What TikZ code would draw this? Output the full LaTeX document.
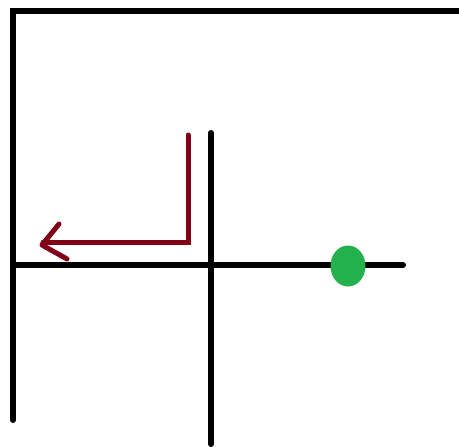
\documentclass[tikz,border=0pt]{standalone}
\definecolor{wallblack}{RGB}{0,0,0}
\definecolor{pathred}{RGB}{128,0,21}
\definecolor{dotgreen}{RGB}{34,177,76}
\begin{document}
\begin{tikzpicture}[x=1pt,y=-1pt,
  wall/.style={draw=wallblack,line width=6pt,line cap=round,line join=miter},
  route/.style={draw=pathred,line width=5pt,line cap=round,line join=miter},
  marker/.style={fill=dotgreen}]
\useasboundingbox (0,0) rectangle (459,447);
% coordinates
\coordinate (tl) at (13,11);
\coordinate (tr) at (462,11);
\coordinate (lb) at (13,420);
\coordinate (mt) at (211,133);
\coordinate (mb) at (211,444);
\coordinate (hl) at (13,265);
\coordinate (hr) at (403,265);
\coordinate (rs) at (188,135);
\coordinate (rc) at (188,242);
\coordinate (re) at (43,242);
\coordinate (tip) at (42,245);
\coordinate (au) at (59,224);
\coordinate (al) at (67,259);
\coordinate (dot) at (348,266);
% walls
\draw[wall] (lb) -- (tl) -- (tr);
\draw[wall] (mt) -- (mb);
\draw[wall] (hl) -- (hr);
% route arrow
\draw[route] (rs) -- (rc) -- (re);
\draw[route,line join=round] (au) -- (tip) -- (al);
% green dot
\fill[marker] (dot) ellipse [x radius=17.5, y radius=20.5];
\end{tikzpicture}
\end{document}
